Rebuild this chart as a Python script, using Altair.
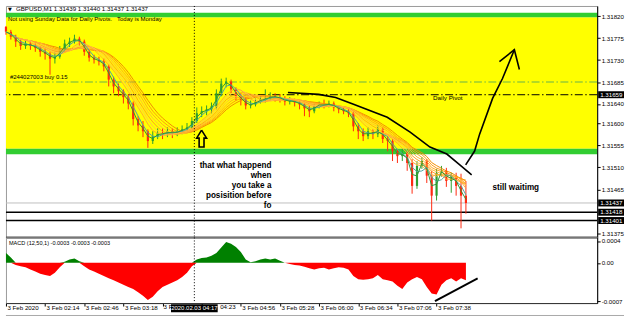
import altair as alt
import pandas as pd

FONT = "Liberation Sans"
W, H_PRICE, H_MACD = 595, 233, 66

# ---------------- data ----------------
# minute index (from the first bar) of each 4-minute candle
bar_t = list(range(0, 380, 4))
first_open = 1.31798
close_p = [1.31788, 1.31778, 1.31768, 1.31759, 1.31764, 1.31759, 1.31755, 1.31747, 1.31743, 1.31733,
           1.31737, 1.31751, 1.31764, 1.31768, 1.31774, 1.31768, 1.31747, 1.31735, 1.31731, 1.31727,
           1.31717, 1.31690, 1.31676, 1.31666, 1.31654, 1.31641, 1.31609, 1.31596, 1.31584, 1.31564,
           1.31574, 1.31580, 1.31578, 1.31584, 1.31580, 1.31584, 1.31588, 1.31592, 1.31605, 1.31621,
           1.31625, 1.31629, 1.31635, 1.31662, 1.31682, 1.31686, 1.31670, 1.31656, 1.31649, 1.31637,
           1.31639, 1.31645, 1.31649, 1.31651, 1.31656, 1.31654, 1.31651, 1.31645, 1.31647, 1.31643,
           1.31639, 1.31631, 1.31625, 1.31637, 1.31639, 1.31637, 1.31641, 1.31633, 1.31629, 1.31625,
           1.31621, 1.31594, 1.31584, 1.31574, 1.31584, 1.31578, 1.31588, 1.31568, 1.31564, 1.31543,
           1.31533, 1.31539, 1.31519, 1.31472, 1.31513, 1.31523, 1.31493, 1.31452, 1.31499, 1.31503,
           1.31482, 1.31493, 1.31472, 1.31452, 1.31437]
high_p = [1.31800, 1.31792, 1.31782, 1.31772, 1.31770, 1.31768, 1.31766, 1.31759, 1.31755, 1.31747,
          1.31747, 1.31759, 1.31772, 1.31776, 1.31782, 1.31778, 1.31772, 1.31751, 1.31741, 1.31737,
          1.31733, 1.31721, 1.31696, 1.31682, 1.31670, 1.31660, 1.31645, 1.31615, 1.31605, 1.31588,
          1.31584, 1.31590, 1.31590, 1.31592, 1.31590, 1.31592, 1.31596, 1.31601, 1.31613, 1.31633,
          1.31635, 1.31637, 1.31643, 1.31670, 1.31692, 1.31694, 1.31690, 1.31674, 1.31662, 1.31654,
          1.31647, 1.31651, 1.31656, 1.31670, 1.31664, 1.31662, 1.31660, 1.31656, 1.31654, 1.31651,
          1.31647, 1.31643, 1.31637, 1.31641, 1.31645, 1.31649, 1.31647, 1.31645, 1.31637, 1.31633,
          1.31631, 1.31625, 1.31601, 1.31590, 1.31592, 1.31588, 1.31596, 1.31592, 1.31574, 1.31568,
          1.31548, 1.31548, 1.31543, 1.31527, 1.31523, 1.31531, 1.31527, 1.31503, 1.31507, 1.31513,
          1.31509, 1.31499, 1.31499, 1.31497, 1.31482]
low_p = [1.31782, 1.31772, 1.31757, 1.31751, 1.31753, 1.31751, 1.31747, 1.31737, 1.31731, 1.31700,
         1.31723, 1.31733, 1.31747, 1.31757, 1.31764, 1.31759, 1.31739, 1.31727, 1.31723, 1.31719,
         1.31707, 1.31676, 1.31662, 1.31656, 1.31641, 1.31629, 1.31596, 1.31584, 1.31572, 1.31550,
         1.31558, 1.31568, 1.31568, 1.31572, 1.31570, 1.31574, 1.31578, 1.31582, 1.31588, 1.31601,
         1.31613, 1.31617, 1.31621, 1.31629, 1.31656, 1.31674, 1.31662, 1.31647, 1.31637, 1.31629,
         1.31631, 1.31635, 1.31641, 1.31643, 1.31647, 1.31645, 1.31643, 1.31637, 1.31639, 1.31635,
         1.31629, 1.31615, 1.31613, 1.31621, 1.31631, 1.31631, 1.31633, 1.31625, 1.31621, 1.31619,
         1.31613, 1.31584, 1.31568, 1.31564, 1.31568, 1.31568, 1.31572, 1.31560, 1.31543, 1.31523,
         1.31519, 1.31523, 1.31503, 1.31456, 1.31466, 1.31507, 1.31478, 1.31401, 1.31442, 1.31491,
         1.31470, 1.31458, 1.31452, 1.31385, 1.31415]
macd_v = [0.00018, 0.00010, -0.00004, -0.00006, -0.00008, -0.00012, -0.00016, -0.00020, -0.00022, -0.00024,
          -0.00018, -0.00008, 0.00002, 0.00006, 0.00008, 0.00003, -0.00006, -0.00012, -0.00016, -0.00020,
          -0.00024, -0.00028, -0.00032, -0.00036, -0.00040, -0.00044, -0.00048, -0.00054, -0.00060, -0.00068,
          -0.00062, -0.00052, -0.00044, -0.00040, -0.00036, -0.00032, -0.00026, -0.00018, -0.00006, 0.00006,
          0.00009, 0.00010, 0.00013, 0.00018, 0.00028, 0.00038, 0.00035, 0.00029, 0.00020, 0.00006,
          0.00001, 0.00003, 0.00006, 0.00008, 0.00006, 0.00008, 0.00004, 0.00000, -0.00002, -0.00004,
          -0.00005, -0.00007, -0.00010, -0.00012, -0.00010, -0.00009, -0.00012, -0.00010, -0.00008, -0.00009,
          -0.00012, -0.00024, -0.00030, -0.00031, -0.00030, -0.00028, -0.00022, -0.00030, -0.00032, -0.00034,
          -0.00042, -0.00048, -0.00036, -0.00030, -0.00026, -0.00030, -0.00044, -0.00056, -0.00058, -0.00040,
          -0.00032, -0.00028, -0.00034, -0.00028, -0.00032]

tick_t = [0, 32, 64, 96, 128, 160, 192, 224, 256, 288, 320, 352]
# labels at 128 and 160 are mostly hidden behind the cursor time box; their visible parts are drawn separately
tick_lbl = ["3 Feb 2020", "3 Feb 02:14", "3 Feb 02:46", "3 Feb 03:18", "", "",
            "3 Feb 04:56", "3 Feb 05:28", "3 Feb 06:00", "3 Feb 06:34", "3 Feb 07:06", "3 Feb 07:38"]
part_lbl_t = [128, 160]
part_lbl = ["3 F", "04:23"]
part_lbl_dx = [1, 18.6]
price_ticks = [1.31820, 1.31775, 1.31730, 1.31685, 1.31640, 1.31600, 1.31555, 1.31510, 1.31465, 1.31375]
macd_ticks = [0.0004, 0.0, -0.0007]

zone_lo = [1.31548, 1.31818, 1.31537]
zone_hi = [1.31818, 1.31827, 1.31548]
zone_col = ["#FFFF00", "#32CD32", "#32CD32"]

bid_lvl = 1.31437
pivot_lvl = 1.31659
order_lvl = 1.31685
black_lvls = [1.31418, 1.31401]
box_lvls = [1.31659, 1.31437, 1.31418, 1.31401]
box_txt = ["1.31659", "1.31437", "1.31418", "1.31401"]
cursor_t = 154

ma_periods = [11, 10, 9, 8, 7, 6, 5, 3, 2]
ma_colors = ["#F08C00", "#FF9A10", "#FFA820", "#FFB838", "#FFA020", "#FFC24A", "#FFAA30", "#4FA8A0", "#2E9A3A"]

# hand-drawn annotations (minute index, price)
curve_t = [230.5, 255.7, 269.5, 284.1, 311.7, 330.4, 346.6, 360.4, 371.0, 380.7]
curve_p = [1.316637, 1.316597, 1.316535, 1.316393, 1.316128, 1.315822, 1.315517, 1.315374, 1.315150, 1.314946]
arrow_t = [375.8, 383.1, 387.2, 397.8, 405.9, 415.6]
arrow_p = [1.315150, 1.315435, 1.315782, 1.316515, 1.316923, 1.317513]
head_t = [403.4, 415.6, 419.7]
head_p = [1.317269, 1.317513, 1.317106]
hollow_t = [159.9, 164.0, 161.9, 161.9, 157.9, 157.9, 155.9, 159.9]
hollow_p = [1.315863, 1.315700, 1.315700, 1.315517, 1.315517, 1.315700, 1.315700, 1.315863]
macd_line_t = [350.7, 385.6]
macd_line_v = [-0.000700, -0.000286]

# ---------------- scales / axes ----------------
XS = alt.Scale(domain=[0, 483.3], nice=False, zero=False)
PS = alt.Scale(domain=[1.313662, 1.318410], nice=False, zero=False)
MS = alt.Scale(domain=[-0.000736, 0.000464], nice=False, zero=False)

PAXIS = alt.Axis(orient="right", values=price_ticks, format=".5f", tickSize=3, labelPadding=1,
                 grid=False, title=None, zindex=1, labelOverlap=False, labelFlush=False)
MAXIS = alt.Axis(orient="right", values=macd_ticks, tickSize=3, labelPadding=1, grid=False, title=None,
                 zindex=1, labelOverlap=False, labelFlush=False,
                 labelExpr="datum.value > 0.0001 ? '0.0004' : (datum.value < -0.0001 ? '-0.0007' : '0.00')")
lbl_js = "[" + ",".join("'" + s + "'" for s in tick_lbl) + "]"
XAXIS = alt.Axis(orient="bottom", values=tick_t, labelExpr=lbl_js + "[round(datum.value/32)]",
                 labelAlign="left", labelOffset=1, labelBaseline="middle", labelPadding=1, tickSize=3,
                 grid=False, title=None, labelFlush=False, labelOverlap=False, domainColor="#303030",
                 zindex=0)


def PX(f):
    return alt.X(f, type="quantitative", scale=XS, axis=None)


def PXd(v):
    return alt.XDatum(v, type="quantitative", scale=XS, axis=None)


def PY(f):
    return alt.Y(f, type="quantitative", scale=PS, axis=PAXIS)


def PYd(v):
    return alt.YDatum(v, type="quantitative", scale=PS, axis=PAXIS)


def MX(f):
    return alt.X(f, type="quantitative", scale=XS, axis=XAXIS)


def MXd(v):
    return alt.XDatum(v, type="quantitative", scale=XS, axis=XAXIS)


def MY(f):
    return alt.Y(f, type="quantitative", scale=MS, axis=MAXIS)


one = pd.DataFrame({"k": [0]})

# ---------------- price panel ----------------
candles = pd.DataFrame({"t": bar_t, "open": [first_open] + close_p[:-1], "close": close_p,
                        "high": high_p, "low": low_p})
base = alt.Chart(candles)
up = alt.datum.close >= alt.datum.open
BULL, BEAR = "#2E9E2E", "#FF2A10"

layers = []
for lo, hi, col in zip(zone_lo, zone_hi, zone_col):
    layers.append(alt.Chart(pd.DataFrame({"lo": [lo], "hi": [hi]})).mark_rect(color=col).encode(
        x=alt.value(0), x2=alt.value(W), y=PY("lo"), y2="hi"))

layers.append(alt.Chart(one).mark_rule(color="#C0C0C0", strokeWidth=1).encode(y=PYd(bid_lvl)))
for lv in black_lvls:
    layers.append(alt.Chart(one).mark_rule(color="black", strokeWidth=1.5).encode(y=PYd(lv)))
layers.append(alt.Chart(one).mark_rule(color="#9ACD32", strokeWidth=1.5, strokeDash=[8, 2.5, 1.5, 2.5])
              .encode(y=PYd(order_lvl)))
layers.append(alt.Chart(one).mark_rule(color="black", strokeWidth=1, strokeDash=[8, 2.5, 1.5, 2.5])
              .encode(y=PYd(pivot_lvl)))

# candles
layers.append(base.mark_rule(strokeWidth=1).encode(
    x=PX("t"), y=PY("low"), y2="high",
    color=alt.condition(up, alt.value(BULL), alt.value(BEAR))))
layers.append(base.mark_rule(strokeWidth=2.2, strokeCap="butt").encode(
    x=PX("t"), y=PY("open"), y2="close",
    color=alt.condition(up, alt.value(BULL), alt.value(BEAR))))

# moving average ribbon
for n, col in zip(ma_periods, ma_colors):
    layers.append(base.transform_window(ma="mean(close)", frame=[-(n - 1), 0], sort=[alt.SortField("t")])
                  .mark_line(color=col, strokeWidth=1).encode(x=PX("t"), y=PY("ma")))

# cursor line
layers.append(alt.Chart(one).mark_rule(color="black", strokeWidth=1, strokeDash=[1, 2]).encode(x=PXd(cursor_t)))

# hand drawn annotations
ann = pd.concat([
    pd.DataFrame({"t": curve_t, "p": curve_p, "seg": "curve", "o": range(len(curve_t))}),
    pd.DataFrame({"t": arrow_t, "p": arrow_p, "seg": "arrow", "o": range(len(arrow_t))}),
    pd.DataFrame({"t": head_t, "p": head_p, "seg": "head", "o": range(len(head_t))}),
])
layers.append(alt.Chart(ann).mark_line(color="black", strokeWidth=1.6).encode(
    x=PX("t"), y=PY("p"), detail="seg:N", order="o:Q"))
hol = pd.DataFrame({"t": hollow_t, "p": hollow_p, "o": range(len(hollow_t))})
layers.append(alt.Chart(hol).mark_line(color="black", strokeWidth=1.6).encode(
    x=PX("t"), y=PY("p"), order="o:Q"))

# texts
layers.append(alt.Chart(one).mark_text(text="\u25BC", fontSize=5, font="DejaVu Sans", color="black")
              .encode(x=alt.value(4), y=alt.value(3)))
layers.append(alt.Chart(one).mark_text(text="GBPUSD,M1  1.31439 1.31440 1.31437 1.31437", align="left",
                                       baseline="middle", fontSize=6.2, font=FONT, color="black")
              .encode(x=alt.value(10), y=alt.value(3)))
layers.append(alt.Chart(one).mark_text(text="Not using Sunday Data for Daily Pivots.\u00a0\u00a0 Today is Monday",
                                       align="left", baseline="middle", fontSize=6.0, font=FONT, color="black")
              .encode(x=alt.value(2), y=alt.value(12.7)))
layers.append(alt.Chart(one).mark_text(text="#244027003 buy 0.15", align="left", baseline="middle",
                                       fontSize=6.0, font=FONT, color="black", dy=-4.6)
              .encode(x=PXd(3.2), y=PYd(order_lvl)))
layers.append(alt.Chart(one).mark_text(text="Daily Pivot", align="center", baseline="middle",
                                       fontSize=6.3, font=FONT, color="black", dy=3.7)
              .encode(x=PXd(361.2), y=PYd(pivot_lvl)))
layers.append(alt.Chart(one).mark_text(text=["that what happend", "when", "you take a", "posisition before", "fo"],
                                       align="right", baseline="top", lineHeight=10, fontSize=8.2,
                                       font=FONT, fontWeight="bold", color="black")
              .encode(x=PXd(217), y=PYd(1.315201)))
layers.append(alt.Chart(one).mark_text(text="still waitimg", align="left", baseline="middle", fontSize=8.2,
                                       font=FONT, fontWeight="bold", color="black")
              .encode(x=PXd(397.8), y=PYd(1.314667)))

# separator between panels
layers.append(alt.Chart(one).mark_rule(color="#555555", strokeWidth=2).encode(y=alt.value(H_PRICE)))

# price label boxes on the axis
boxes = pd.DataFrame({"p": box_lvls, "s": box_txt})
layers.append(alt.Chart(boxes).mark_tick(orient="horizontal", size=26, thickness=7, color="black", opacity=1)
              .encode(y=PY("p"), x=alt.value(609)))
layers.append(alt.Chart(boxes).mark_text(align="left", baseline="middle", fontSize=6.2, font=FONT,
                                         color="white")
              .encode(y=PY("p"), x=alt.value(598), text="s:N"))

price = alt.layer(*layers).properties(width=W, height=H_PRICE)

# ---------------- MACD panel ----------------
mdf = pd.DataFrame({"t": bar_t, "v": macd_v})
mbase = alt.Chart(mdf).transform_calculate(pos="max(datum.v, 0)", neg="min(datum.v, 0)", z="0")
m_layers = [
    mbase.mark_area(color="#008000", opacity=1).encode(x=MX("t"), y=MY("pos"), y2="z:Q"),
    mbase.mark_area(color="#FF0000", opacity=1).encode(x=MX("t"), y=MY("neg"), y2="z:Q"),
    alt.Chart(one).mark_rule(color="black", strokeWidth=1, strokeDash=[1, 2]).encode(x=MXd(cursor_t)),
    alt.Chart(pd.DataFrame({"t": macd_line_t, "v": macd_line_v})).mark_line(color="black", strokeWidth=2)
    .encode(x=MX("t"), y=MY("v")),
    alt.Chart(one).mark_text(text="MACD (12,50,1) -0.0003 -0.0003 -0.0003", align="left", baseline="middle",
                             fontSize=5.6, font=FONT, color="black")
    .encode(x=alt.value(3), y=alt.value(5.5)),
]
for t, s, dx in zip(part_lbl_t, part_lbl, part_lbl_dx):
    m_layers.append(alt.Chart(one).mark_text(text=s, align="left", baseline="middle", fontSize=6.2, font=FONT,
                                             color="black", dx=dx)
                    .encode(x=MXd(t), y=alt.value(70)))
m_layers += [
    alt.Chart(one).mark_tick(orient="horizontal", size=47, thickness=8, color="black", opacity=1)
    .encode(x=MXd(cursor_t), y=alt.value(71.3)),
    alt.Chart(one).mark_text(text="2020.02.03 04:17", align="center", baseline="middle", fontSize=6.0,
                             font=FONT, color="white")
    .encode(x=MXd(cursor_t), y=alt.value(71.3)),
    # window tab bar line below the chart
    alt.Chart(one).mark_rule(color="#A8A8A8", strokeWidth=1).encode(
        x=alt.value(0), x2=alt.value(622), y=alt.value(78.5)),
]
macd = alt.layer(*m_layers).properties(width=W, height=H_MACD)

chart = (
    alt.vconcat(price, macd, spacing=0)
    .properties(padding={"left": 3, "top": 4, "right": 0, "bottom": 0}, background="white", bounds="flush")
    .configure_view(stroke="#9A9A9A", strokeWidth=1)
    .configure_axis(labelFont=FONT, labelFontSize=6.2, labelColor="black", tickColor="black",
                    domainColor="black", tickWidth=1, domainWidth=1)
)

chart.save("out.html", embed_options={"renderer": "svg", "actions": False})
